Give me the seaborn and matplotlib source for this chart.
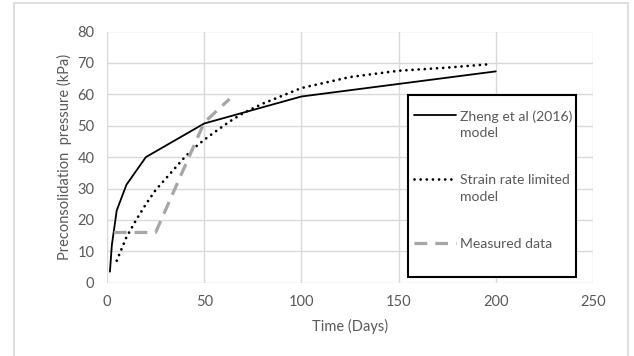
import matplotlib
matplotlib.use("Agg")
import matplotlib.pyplot as plt
import seaborn as sns
import pandas as pd
from matplotlib.patches import Rectangle
from matplotlib.lines import Line2D
from matplotlib.legend_handler import HandlerLine2D

# ---- data ----
zheng_x = [1.5, 2.5, 5, 10, 20, 50, 100, 200]
zheng_y = [3.5, 12, 23, 31.2, 40, 50.7, 59.3, 67.3]

strain_x = [5, 7, 10, 15, 20, 25, 30, 35, 40, 45, 50, 55, 63, 70, 80, 100, 125, 150, 175, 195]
strain_y = [7, 10, 14.5, 20, 25, 29.5, 33, 36.5, 40, 43, 45.5, 47.8, 51.3, 54, 57, 62, 65.5, 67.5, 68.5, 69.5]

meas_x = [3.5, 25, 50, 63]
meas_y = [16, 16, 51, 58.5]

labels = ["Zheng et al (2016)\nmodel", "Strain rate limited\nmodel", "Measured data"]
xticks = [0, 50, 100, 150, 200, 250]
yticks = [0, 10, 20, 30, 40, 50, 60, 70, 80]

sns.set_theme(style="white")
plt.rcParams["font.family"] = ["Lato", "DejaVu Sans"]
txt = "#595959"
grid = "#D9D9D9"
FS = 10.5
LFS = 10.1

W, H = 634, 356
fig = plt.figure(figsize=(W / 100, H / 100), dpi=100)
ax = fig.add_axes([107 / W, 1 - 282.7 / H, (593 - 107) / W, (282.7 - 31.5) / H])

df_z = pd.DataFrame({"x": zheng_x, "y": zheng_y})
df_s = pd.DataFrame({"x": strain_x, "y": strain_y})
df_m = pd.DataFrame({"x": meas_x, "y": meas_y})

sns.lineplot(data=df_z, x="x", y="y", ax=ax, color="black", lw=1.3, sort=False)
sns.lineplot(data=df_s, x="x", y="y", ax=ax, color="black", lw=2.0, sort=False,
             linestyle=(0, (0.01, 2.2)), dash_capstyle="round")
sns.lineplot(data=df_m, x="x", y="y", ax=ax, color="#A6A6A6", lw=2.3, sort=False,
             linestyle=(0, (4, 2.5)))

ax.set_xlim(0, 250)
ax.set_ylim(0, 80)
ax.set_xticks(xticks)
ax.set_yticks(yticks)
ax.grid(True, color=grid, lw=1)
for s in ax.spines.values():
    s.set_visible(False)
ax.tick_params(axis="both", length=0, labelsize=FS, colors=txt)
ax.tick_params(axis="y", pad=9)
ax.tick_params(axis="x", pad=9)
ax.set_xlabel("Time (Days)", fontsize=FS, color=txt, labelpad=7)
ax.set_ylabel("Preconsolidation  pressure (kPa)", fontsize=FS, color=txt, labelpad=4)

# outer chart border
fig.patches.append(Rectangle((14 / W, -0.05), (628 - 14) / W, 1.05 - 3 / H,
                             transform=fig.transFigure, fill=False,
                             edgecolor=grid, lw=1.2))


class FirstLineHandler(HandlerLine2D):
    """Align the legend line with the first text line of a label."""
    def __init__(self, dy=0.0, **kw):
        super().__init__(**kw)
        self.dy = dy

    def create_artists(self, legend, orig_handle, xdescent, ydescent,
                       width, height, fontsize, trans):
        return super().create_artists(legend, orig_handle, xdescent,
                                      ydescent - 2 * self.dy, width, height,
                                      fontsize, trans)


# legend
handles = [
    Line2D([], [], color="black", lw=1.3),
    Line2D([], [], color="black", lw=2.0, linestyle=(0, (0.01, 2.2)), dash_capstyle="round"),
    Line2D([], [], color="#A6A6A6", lw=2.3, linestyle=(0, (4, 2.5))),
]
ax.add_patch(Rectangle((408 / W, 1 - 277.3 / H), (575.7 - 408) / W, (277.3 - 95) / H,
                       transform=fig.transFigure, facecolor="white",
                       edgecolor="black", lw=1.5, zorder=4))
leg = fig.legend(handles, labels, loc="upper left",
                 bbox_to_anchor=(414 / W, 1 - 110 / H), frameon=False,
                 fontsize=LFS, labelcolor=txt, handlelength=3.0,
                 handletextpad=0.3, labelspacing=2.5, borderpad=0,
                 borderaxespad=0,
                 handler_map={handles[0]: FirstLineHandler(6.8),
                              handles[1]: FirstLineHandler(6.8)})
for t in leg.get_texts():
    t.set_linespacing(1.45)
leg.set_zorder(5)

fig.savefig("out.png", dpi=100)
